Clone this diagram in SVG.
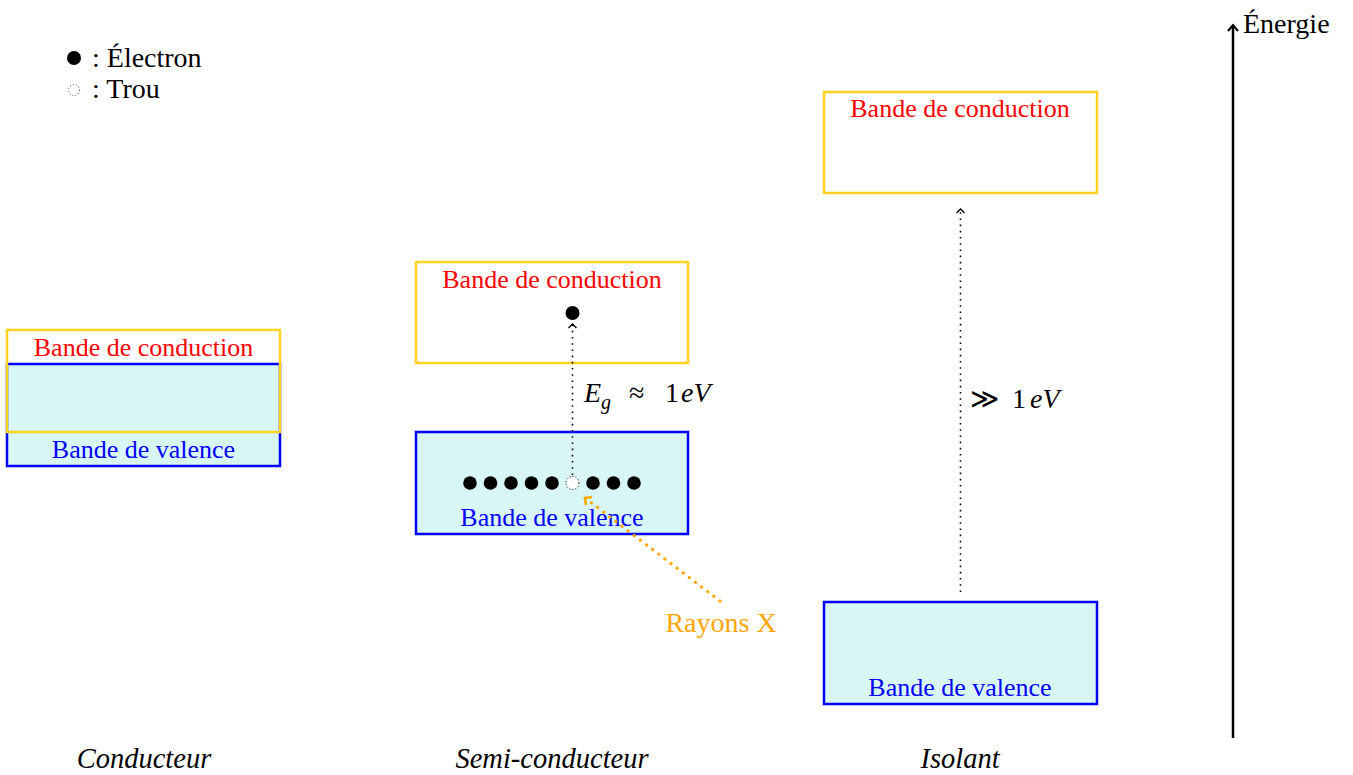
<svg xmlns="http://www.w3.org/2000/svg" width="1353" height="775" viewBox="0 0 1353 775">
<style>
  text { font-family: "Liberation Serif", "Times New Roman", serif; }
  .cb { fill: none; stroke: #ffd21f; stroke-width: 2.5; }
  .vb { fill: #d8f7f4; stroke: #0000ff; stroke-width: 2.5; }
  .red { fill: #ff0000; font-size: 26px; text-anchor: middle; }
  .blue { fill: #0000ff; font-size: 26px; text-anchor: middle; }
  .lbl { fill: #000; font-size: 28.5px; font-style: italic; text-anchor: middle; }
  .el { fill: #000; }
  .hole { fill: #fff; stroke: #000; stroke-width: 1; stroke-dasharray: 1 2; }
  .dot { fill: none; stroke: #000; stroke-width: 1.6; stroke-dasharray: 1.6 4.6; }
  .math { font-size: 28px; fill: #000; }
  .it { font-style: italic; }
</style>
<defs>
  <marker id="chev" viewBox="-6 -6 12 12" markerWidth="12" markerHeight="12" refX="0" refY="0" orient="auto" markerUnits="userSpaceOnUse">
    <path d="M-4,-4 L0,0 L-4,4" fill="none" stroke="#000" stroke-width="1.3"/>
  </marker>
  <marker id="chevO" viewBox="-8 -8 16 16" markerWidth="16" markerHeight="16" refX="0" refY="0" orient="auto" markerUnits="userSpaceOnUse">
    <path d="M-5,-5 L0,0 L-5,5" fill="none" stroke="#ffa500" stroke-width="2.5"/>
  </marker>
  <marker id="axis" viewBox="-8 -8 16 16" markerWidth="16" markerHeight="16" refX="0" refY="0" orient="auto" markerUnits="userSpaceOnUse">
    <path d="M-6,-5 L0,0 L-6,5" fill="none" stroke="#000" stroke-width="2"/>
  </marker>
</defs>

<g id="legend">
  <circle class="el" cx="74" cy="58" r="7"/>
  <text x="92" y="67" font-size="28">: Électron</text>
  <circle cx="74" cy="90" r="5.5" fill="#fff" stroke="#777" stroke-width="1.2" stroke-dasharray="1 2"/>
  <text x="92" y="98" font-size="28">: Trou</text>
</g>

<g id="conducteur">
  <rect class="vb" x="7" y="364" width="273" height="102"/>
  <rect class="cb" x="7" y="330" width="273" height="102"/>
  <text class="red" x="143.5" y="356">Bande de conduction</text>
  <text class="blue" x="143.5" y="458">Bande de valence</text>
  <text class="lbl" x="144" y="768">Conducteur</text>
</g>

<g id="semi-conducteur">
  <rect class="cb" x="416" y="262" width="272" height="101"/>
  <text class="red" x="552" y="288">Bande de conduction</text>
  <rect class="vb" x="416" y="432" width="272" height="102"/>
  <text class="blue" x="552" y="526">Bande de valence</text>
  <circle class="el" cx="572.5" cy="313" r="7"/>
  <g id="electrons">
    <circle class="el" cx="470" cy="483" r="6.8"/>
    <circle class="el" cx="490.5" cy="483" r="6.8"/>
    <circle class="el" cx="511" cy="483" r="6.8"/>
    <circle class="el" cx="531.5" cy="483" r="6.8"/>
    <circle class="el" cx="552" cy="483" r="6.8"/>
    <circle class="hole" cx="572.5" cy="483" r="6.5"/>
    <circle class="el" cx="593" cy="483" r="6.8"/>
    <circle class="el" cx="613.5" cy="483" r="6.8"/>
    <circle class="el" cx="634" cy="483" r="6.8"/>
  </g>
  <text class="math" x="584" y="402"><tspan class="it">E</tspan><tspan class="it" font-size="20" dy="7">g</tspan><tspan dy="-7" x="629">≈</tspan><tspan x="665">1</tspan><tspan class="it" x="681">eV</tspan></text>
  <text x="721" y="632" font-size="28" fill="#ffa500" text-anchor="middle">Rayons X</text>
  <text class="lbl" x="552" y="768">Semi-conducteur</text>
</g>

<g id="isolant">
  <rect class="cb" x="824" y="92" width="273" height="101"/>
  <text class="red" x="960" y="117">Bande de conduction</text>
  <rect class="vb" x="824" y="602" width="273" height="102"/>
  <text class="blue" x="960" y="696">Bande de valence</text>
  <text class="math" x="970" y="408">≫<tspan x="1012">1</tspan><tspan class="it" x="1030">eV</tspan></text>
  <text class="lbl" x="960" y="768">Isolant</text>
</g>

<g id="axe-energie">
  <line x1="1233" y1="738" x2="1233" y2="25" stroke="#000" stroke-width="2.5" marker-end="url(#axis)"/>
  <text x="1243" y="33" font-size="28">Énergie</text>
</g>

<g id="connectors">
  <line class="dot" x1="572.5" y1="475" x2="572.5" y2="324" marker-end="url(#chev)"/>
  <line class="dot" x1="960.5" y1="592" x2="960.5" y2="209" marker-end="url(#chev)"/>
  <line x1="720" y1="601" x2="585" y2="498" fill="none" stroke="#ffa500" stroke-width="3.2" stroke-linecap="round" stroke-dasharray="0.1 7.6" marker-end="url(#chevO)"/>
</g>
</svg>
